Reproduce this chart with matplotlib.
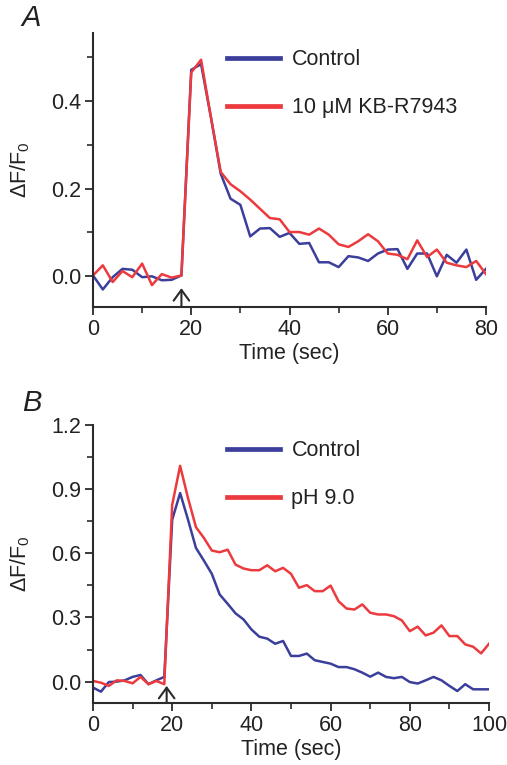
import matplotlib
matplotlib.use("Agg")
import matplotlib.pyplot as plt
from matplotlib.ticker import MultipleLocator
import numpy as np

plt.rcParams['font.family'] = ['Liberation Sans', 'DejaVu Sans']
plt.rcParams['mathtext.fontset'] = 'custom'
plt.rcParams['mathtext.rm'] = 'Liberation Sans'

# ---- Panel A data ----
time_a = list(range(0, 82, 2))
control_a = [0.002, -0.030, -0.002, 0.017, 0.015, -0.002, 0.000, -0.009, -0.008, 0.002,
             0.471, 0.484, 0.363, 0.234, 0.177, 0.163, 0.091, 0.109, 0.110, 0.090,
             0.099, 0.074, 0.076, 0.032, 0.032, 0.021, 0.046, 0.043, 0.035, 0.052,
             0.061, 0.062, 0.017, 0.052, 0.052, 0.000, 0.049, 0.031, 0.061, -0.008,
             0.017]
kbr_a = [0.002, 0.025, -0.013, 0.012, -0.002, 0.029, -0.020, 0.005, -0.003, 0.002,
         0.465, 0.494, 0.363, 0.238, 0.210, 0.194, 0.175, 0.154, 0.133, 0.130,
         0.101, 0.101, 0.095, 0.109, 0.095, 0.073, 0.067, 0.080, 0.096, 0.080,
         0.052, 0.049, 0.039, 0.082, 0.044, 0.061, 0.031, 0.025, 0.021, 0.035,
         0.005]
labels_a = ["Control", "10 \u03bcM KB-R7943"]

# ---- Panel B data ----
time_b = list(range(0, 102, 2))
control_b = [-0.028, -0.047, -0.002, 0.000, 0.006, 0.022, 0.031, -0.012, 0.006, 0.022,
             0.757, 0.882, 0.757, 0.625, 0.566, 0.504, 0.407, 0.364, 0.319, 0.291,
             0.244, 0.210, 0.201, 0.177, 0.190, 0.120, 0.120, 0.131, 0.100, 0.092,
             0.084, 0.068, 0.068, 0.058, 0.042, 0.023, 0.042, 0.022, 0.016, 0.022,
             -0.002, -0.009, 0.006, 0.022, 0.006, -0.020, -0.044, -0.012, -0.036, -0.036,
             -0.036]
ph9_b = [0.003, -0.005, -0.020, 0.006, 0.003, -0.008, 0.022, -0.012, 0.003, -0.012,
         0.827, 1.009, 0.858, 0.722, 0.672, 0.613, 0.605, 0.617, 0.547, 0.529,
         0.521, 0.521, 0.544, 0.516, 0.532, 0.504, 0.439, 0.451, 0.423, 0.423,
         0.449, 0.376, 0.342, 0.337, 0.361, 0.322, 0.314, 0.314, 0.306, 0.286,
         0.236, 0.257, 0.216, 0.229, 0.263, 0.213, 0.213, 0.174, 0.163, 0.132,
         0.177]
labels_b = ["Control", "pH 9.0"]

BLUE = "#3b3f9b"
RED = "#ec3a3e"
AX = "#2b2b2b"
TXT = "#222222"
FS = 15.5

W, H = 507, 765
fig = plt.figure(figsize=(W / 100, H / 100), dpi=100)

def px_axes(l, r, t, b):
    return fig.add_axes([l / W, 1 - b / H, (r - l) / W, (b - t) / H])

def style(ax):
    for s in ["top", "right"]:
        ax.spines[s].set_visible(False)
    for s in ["left", "bottom"]:
        ax.spines[s].set_linewidth(1.5)
        ax.spines[s].set_color(AX)
    ax.tick_params(which="major", direction="out", length=5.5, width=1.3, color=AX,
                   labelsize=FS, labelcolor=TXT, pad=3)
    ax.tick_params(which="minor", direction="out", length=4, width=1.2, color=AX)

def add_legend(ax, anchor):
    leg = ax.legend(loc="upper left", bbox_to_anchor=anchor, frameon=False,
                    fontsize=FS, handlelength=2.45, handletextpad=0.55, labelspacing=1.25,
                    borderpad=0, borderaxespad=0)
    for l in leg.get_lines():
        l.set_linewidth(3.4)
    for t in leg.get_texts():
        t.set_color(TXT)

ARROW = dict(arrowstyle="->,head_length=0.55,head_width=0.4", lw=1.5, color=AX,
             mutation_scale=14, shrinkA=0, shrinkB=0)

# Panel A
axa = px_axes(93, 486, 33, 307)
style(axa)
axa.plot(time_a, control_a, color=BLUE, lw=1.8, label=labels_a[0])
axa.plot(time_a, kbr_a, color=RED, lw=1.8, label=labels_a[1])
axa.set_xlim(0, 80)
axa.set_ylim(-0.07, 0.555)
axa.xaxis.set_major_locator(MultipleLocator(20))
axa.xaxis.set_minor_locator(MultipleLocator(10))
axa.yaxis.set_minor_locator(MultipleLocator(0.1))
axa.set_yticks([0.0, 0.2, 0.4])
axa.set_yticklabels(["0.0", "0.2", "0.4"])
axa.set_xlabel("Time (sec)", fontsize=FS, labelpad=2, color=TXT)
axa.set_ylabel("\u0394F/F$_\\mathregular{0}$", fontsize=FS, labelpad=14, color=TXT)
axa.annotate("", xy=(18, -0.027), xytext=(18, -0.07), arrowprops=ARROW)
add_legend(axa, (0.341, 0.94))
fig.text(21 / W, 1 - 18 / H, "A", fontsize=21, style="italic", va="center", ha="left", color=TXT)

# Panel B
axb = px_axes(93, 489, 425, 703)
style(axb)
axb.plot(time_b, control_b, color=BLUE, lw=1.8, label=labels_b[0])
axb.plot(time_b, ph9_b, color=RED, lw=1.8, label=labels_b[1])
axb.set_xlim(0, 100)
axb.set_ylim(-0.1, 1.2)
axb.xaxis.set_major_locator(MultipleLocator(20))
axb.xaxis.set_minor_locator(MultipleLocator(10))
axb.yaxis.set_minor_locator(MultipleLocator(0.15))
axb.set_yticks([0.0, 0.3, 0.6, 0.9, 1.2])
axb.set_yticklabels(["0.0", "0.3", "0.6", "0.9", "1.2"])
axb.set_xlabel("Time (sec)", fontsize=FS, labelpad=2, color=TXT)
axb.set_ylabel("\u0394F/F$_\\mathregular{0}$", fontsize=FS, labelpad=14, color=TXT)
axb.annotate("", xy=(18.6, -0.02), xytext=(18.6, -0.1), arrowprops=ARROW)
add_legend(axb, (0.338, 0.945))
fig.text(22 / W, 1 - 403 / H, "B", fontsize=21, style="italic", va="center", ha="left", color=TXT)

fig.savefig("out.png", dpi=100)
